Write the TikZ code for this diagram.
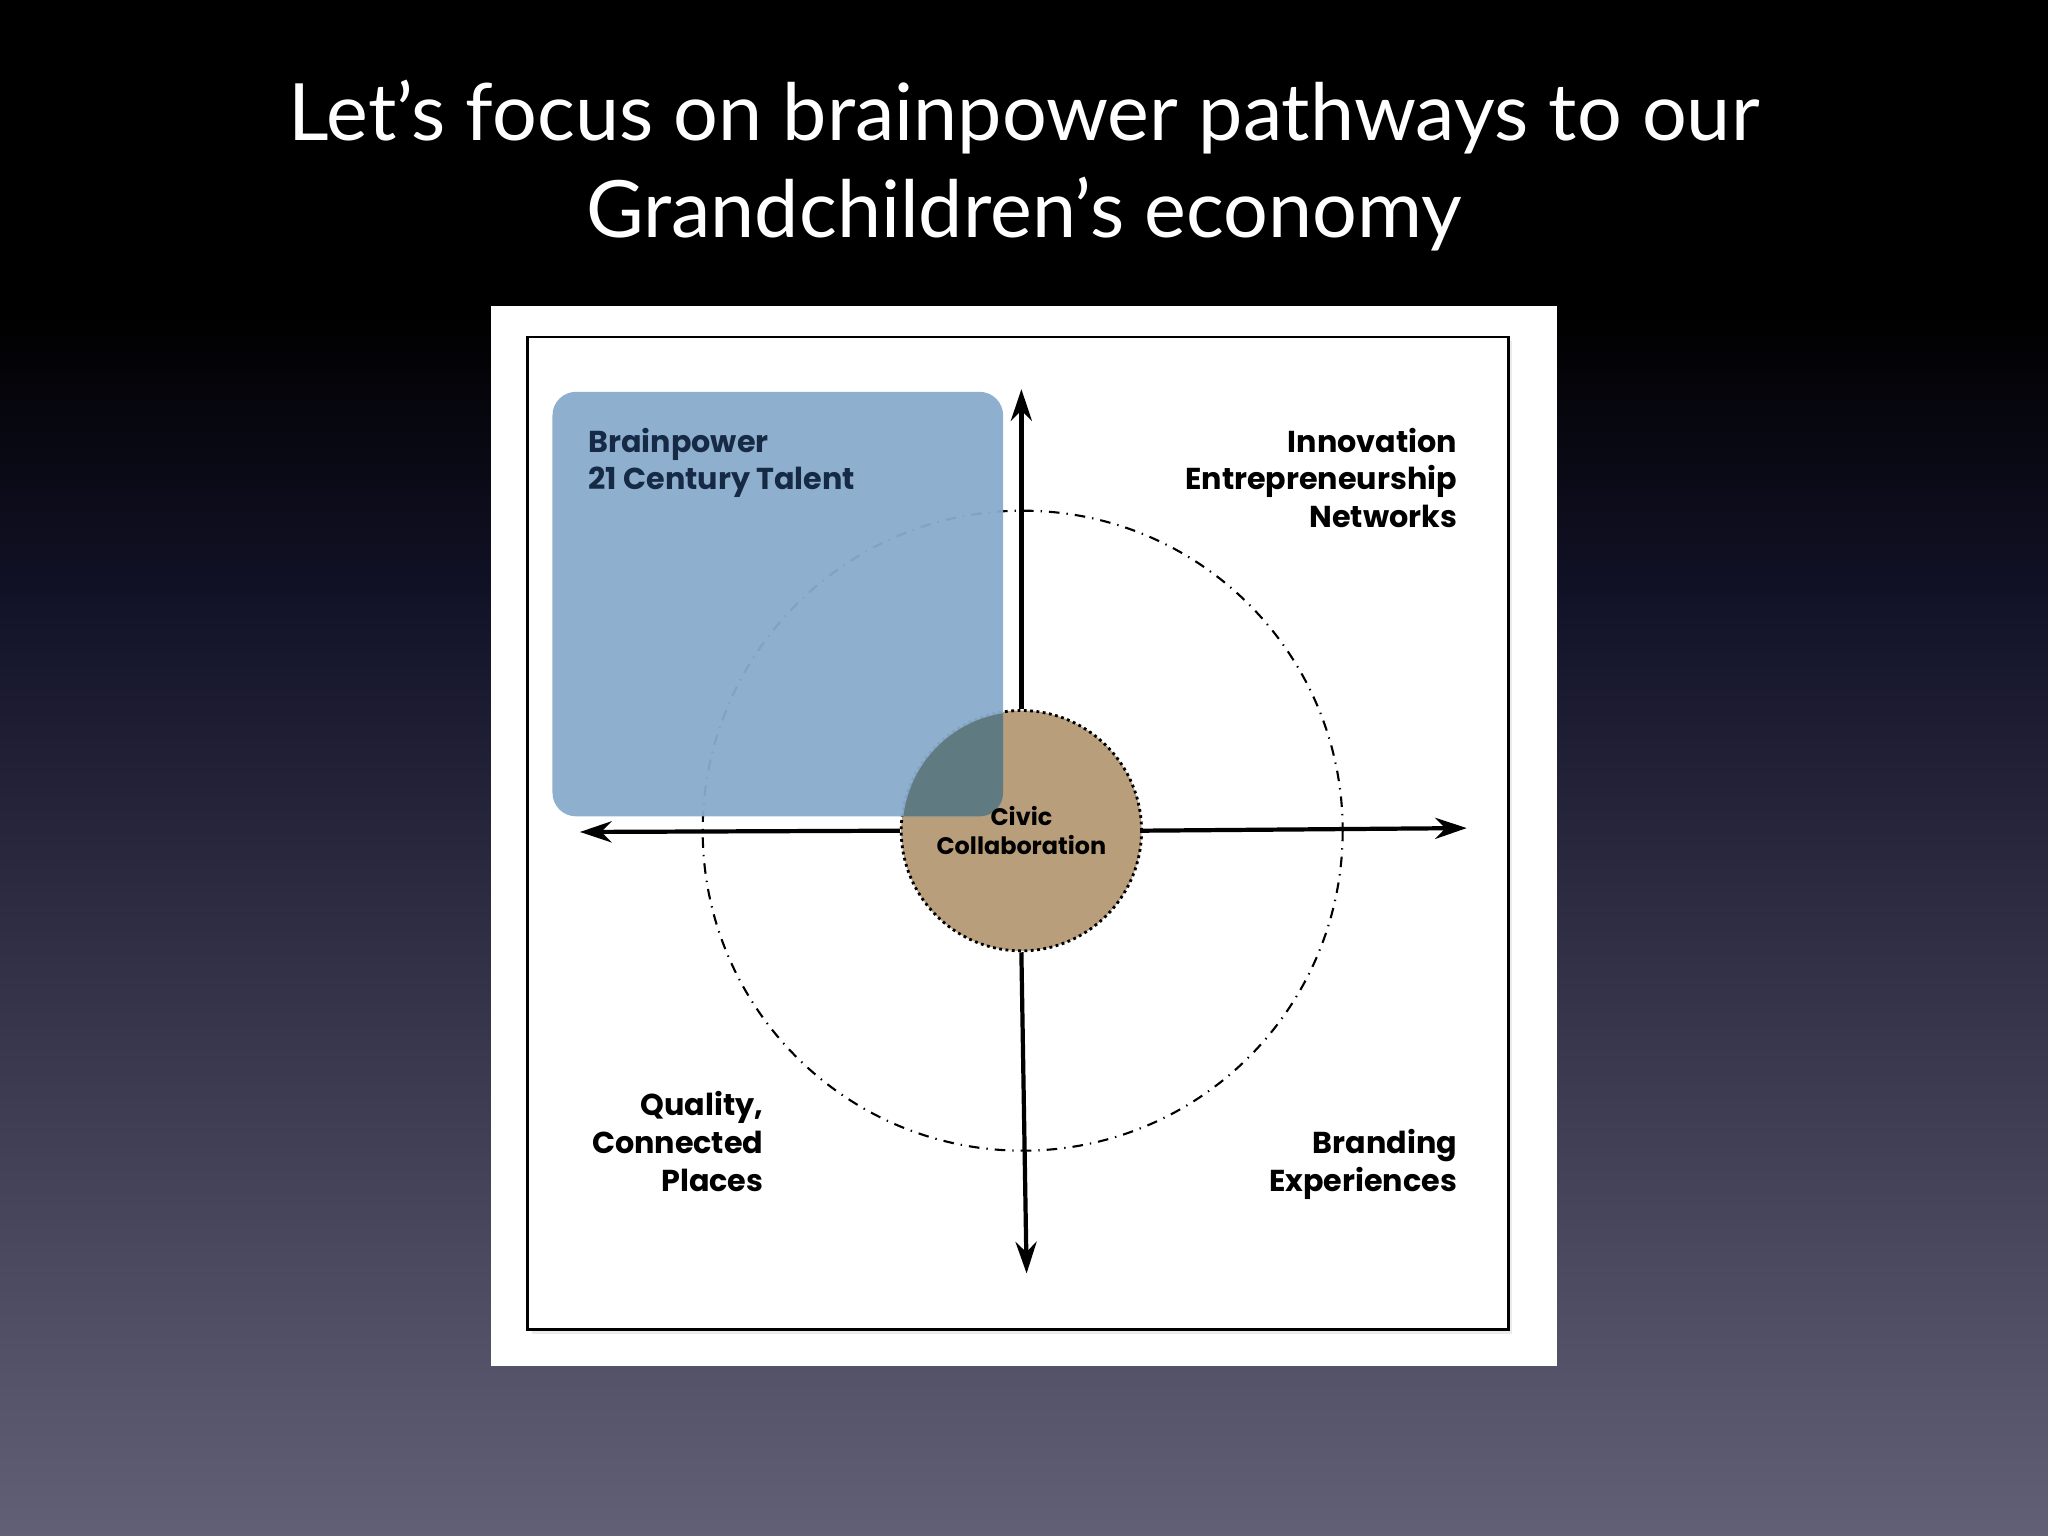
\documentclass[tikz,border=0pt]{standalone}
\usepackage{fontspec}
\setmainfont{Lato}
\newfontfamily\lbl{Poppins}
\usetikzlibrary{arrows.meta}
\definecolor{bgmid}{RGB}{18,18,40}
\definecolor{bgbot}{RGB}{98,96,118}
\definecolor{bluebox}{RGB}{136,171,204}
\definecolor{civic}{RGB}{184,158,122}
\definecolor{overlap}{RGB}{95,122,128}
\definecolor{navy}{RGB}{22,42,70}
\begin{document}
\begin{tikzpicture}[x=0.013061cm,y=-0.013061cm,
  lab/.style={font=\lbl\bfseries\fontsize{8.6}{10.8}\selectfont,align=right,inner sep=0},
  axis/.style={line width=1.2pt,-{Stealth[length=9pt,width=6pt]}}]
\useasboundingbox (0,0) rectangle (1568,1176);
\fill[black] (0,0) rectangle (1568,240);
\shade[top color=black,bottom color=bgmid] (0,239) rectangle (1568,460);
\shade[top color=bgmid,bottom color=bgbot] (0,459) rectangle (1568,1176);
\node[text=white,align=center,font=\fontsize{22.5}{27.5}\selectfont] (title) at (784,127)
  {Let’s focus on brainpower pathways to our\\Grandchildren’s economy};
\fill[white] (376,234) rectangle (1192,1046);
\fill[black!8] (407,261) rectangle (1158,1021);
\draw[black,line width=0.8pt,fill=white] (404,258) rectangle (1155,1018);
\coordinate (c) at (783,636);
\draw[dash dot,line width=0.6pt] (c) circle[radius=245];
\coordinate (top) at (782,298);
\coordinate (bot) at (786,975);
\coordinate (left) at (444,637);
\coordinate (right) at (1123,634);
\node[circle,minimum size=184*0.013061cm,fill=civic,draw=black,densely dotted,line width=0.8pt,inner sep=0] (civ) at (782,636) {};
\draw[axis] (civ.north) -- (top);
\draw[axis] (civ.south) -- (bot);
\draw[axis] (civ.west) -- (left);
\draw[axis] (civ.east) -- (right);
\fill[bluebox,opacity=0.95,rounded corners=18*0.013061cm] (423,300) rectangle (768,625);
\begin{scope}
\clip (782,636) circle[radius=91];
\fill[overlap,rounded corners=18*0.013061cm] (423,300) rectangle (768,625);
\end{scope}
\node[font=\lbl\bfseries\fontsize{6.8}{8.4}\selectfont,align=center,inner sep=0] (civt) at (782,636) {Civic\\Collaboration};
\node[lab,align=left,anchor=north west,text=navy] (brain) at (450,327) {Brainpower\\21 Century Talent};
\node[lab,anchor=north east] (inn) at (1116,327) {Innovation\\Entrepreneurship\\Networks};
\node[lab,anchor=north east] (qual) at (585,835) {Quality,\\Connected\\Places};
\node[lab,anchor=north east] (brand) at (1116,864) {Branding\\Experiences};
\end{tikzpicture}
\end{document}
